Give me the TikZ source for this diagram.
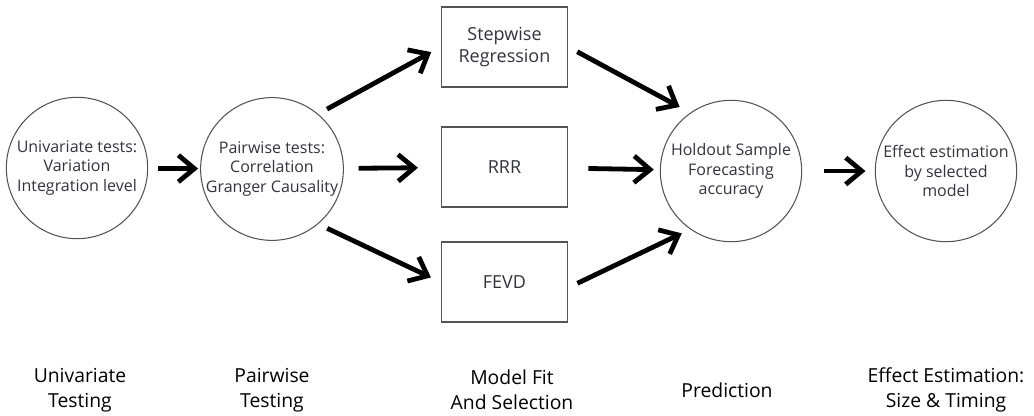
\documentclass[tikz,border=0pt]{standalone}
\usepackage{fontspec}
\setmainfont{Open Sans}
\usetikzlibrary{arrows.meta}
\definecolor{rimgrey}{rgb}{0.33, 0.33, 0.33}
\definecolor{inkgrey}{rgb}{0.2, 0.2, 0.24}

\begin{document}
\begin{tikzpicture}[x=0.75pt, y=-0.75pt,
  test/.style={circle, draw=rimgrey, line width=0.8pt, minimum size=106pt, inner sep=0pt,
    align=center, text=inkgrey, font=\fontsize{12}{14.5}\selectfont},
  model/.style={rectangle, draw=rimgrey, line width=0.9pt, minimum width=95pt, minimum height=60pt,
    align=center, text=inkgrey, font=\fontsize{13.5}{16.5}\selectfont},
  stage/.style={align=center, text=black, font=\fontsize{14.5}{19}\selectfont},
  flow/.style={-{Straight Barb[length=12pt, width=20pt]}, line width=3.6pt, black}]
\useasboundingbox (0,0) rectangle (1034,415);

%the tests
\node [test] (uni) at (77,168) {Univariate tests:\\Variation\\Integration level};
\node [test] (pair) at (272,169) {Pairwise tests:\\Correlation\\Granger Causality};
%the models
\node [model] (sw) at (504.5,47) {Stepwise\\Regression};
\node [model] (rrr) at (504.5,167) {RRR};
\node [model] (fevd) at (504.5,282) {FEVD};
%prediction and effect
\node [test] (hold) at (731,171) {Holdout Sample\\Forecasting\\accuracy};
\node [test] (eff) at (946,171) {Effect estimation\\by selected\\model};

%the arrows
\draw [flow, shorten <=7.5pt, shorten >=1.5pt] (uni) -- (pair);
\draw [flow, shorten <=7.5pt, shorten >=8pt] (pair.50) -- (sw.west);
\draw [flow, shorten <=11pt, shorten >=17pt] (pair) -- (rrr);
\draw [flow, shorten <=7.5pt, shorten >=8pt] (pair.-50) -- (fevd.west);
\draw [flow, shorten <=7.5pt, shorten >=9pt] (sw.east) -- (hold.125);
\draw [flow, shorten <=15pt, shorten >=4.5pt] (rrr) -- (hold);
\draw [flow, shorten <=7.5pt, shorten >=7pt] (fevd.-5) -- (hold.-125);
\draw [flow, shorten <=16.5pt, shorten >=7pt] (hold) -- (eff);

%the stages
\node [stage] (s1) at (80,390) {Univariate\\Testing};
\node [stage] (s2) at (272,390) {Pairwise\\Testing};
\node [stage] (s3) at (512,390) {Model Fit\\And Selection};
\node [stage] (s4) at (727,390) {Prediction};
\node [stage] (s5) at (946,390) {Effect Estimation:\\Size \& Timing};
\end{tikzpicture}
\end{document}
